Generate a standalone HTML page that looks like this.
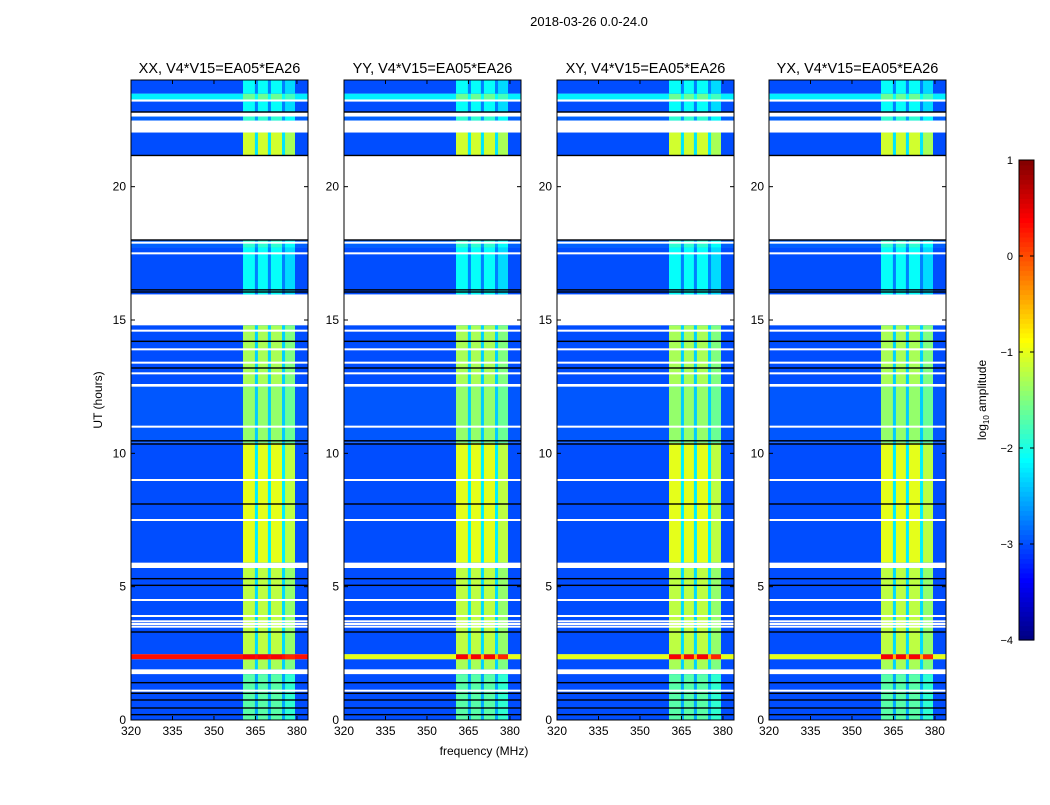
<!DOCTYPE html>
<html><head><meta charset="utf-8"><style>
body{margin:0;background:#fff;width:1050px;height:800px;overflow:hidden;font-family:"Liberation Sans",sans-serif}
svg text{font-family:"Liberation Sans",sans-serif}
</style></head><body>
<svg id="fig" width="1050" height="800" xmlns="http://www.w3.org/2000/svg">
<rect width="1050" height="800" fill="#fff"/>
<text x="589" y="26" font-size="13" text-anchor="middle">2018-03-26 0.0-24.0</text>
<text transform="translate(102,400) rotate(-90)" font-size="12" text-anchor="middle">UT (hours)</text>
<text x="484" y="755" font-size="12" text-anchor="middle">frequency (MHz)</text>
<g id="panels"></g>
<g id="cbar"></g>
<text transform="translate(986,400) rotate(-90)" font-size="12" text-anchor="middle">log<tspan font-size="8" dy="3">10</tspan><tspan dy="-3"> amplitude</tspan></text>
</svg>
<script>
// ---- data ----
const panelTitles = ["XX, V4*V15=EA05*EA26","YY, V4*V15=EA05*EA26","XY, V4*V15=EA05*EA26","YX, V4*V15=EA05*EA26"];
const panelLeft = [131,344,557,769];
const xTicks = [320,335,350,365,380];
const yTicks = [0,5,10,15,20];
const cbarTicks = [1,0,-1,-2,-3,-4];
// time segments: start hour, end hour, background level, rfi level (null = flagged)
const segStart = [0,1.72,1.9,2.28,2.47,5.7,5.9,10.4,12.5,12.6,14.8,15.96,17.72,18.02,21.17,22.03,22.48,22.63,22.78,23.19,23.27,23.49];
const segEnd   = [1.72,1.9,2.28,2.47,5.7,5.9,10.4,12.5,12.6,14.8,15.96,17.72,18.02,21.17,22.03,22.48,22.63,22.78,23.19,23.27,23.49,24];
const segBg    = [-3.0,null,-3.0,-0.9,-3.0,null,-3.0,-2.95,null,-3.0,null,-3.0,-2.9,null,-3.0,null,-2.9,null,-3.0,null,-2.2,-3.0];
const segRfi   = [-1.7,null,-1.3,0.4,-1.2,null,-1.0,-1.4,null,-1.3,null,-2.1,-1.9,null,-1.1,null,-1.9,null,-2.1,null,-1.6,-2.1];
// per-panel background level of the 2.3h burst
const burstBg = [0.3,-1.0,-1.0,-1.0];
const rfiBandLo = [360.5,365.9,370.6,375.7];
const rfiBandHi = [364.8,369.5,374.6,379.3];
const blackLines = [0.2,0.45,0.75,1.0,1.4,3.3,5.05,5.3,8.1,10.35,10.47,13.2,14.2,16.05,16.13,18.0,21.17,22.8];
const whiteLines = [1.1,3.5,3.6,3.7,3.9,4.5,7.5,9.0,11.0,13.0,13.4,13.9,14.6,17.5,17.9];

const PW=177, PT=80, PB=720, F0=320, F1=384;
const NS="http://www.w3.org/2000/svg";
function jet(L){let v=Math.max(0,Math.min(1,(L+4)/5));
 const c=x=>Math.round(255*Math.max(0,Math.min(1,x)));
 return `rgb(${c(1.5-Math.abs(4*v-3))},${c(1.5-Math.abs(4*v-2))},${c(1.5-Math.abs(4*v-1))})`;}
function mk(tag,attrs,parent){const e=document.createElementNS(NS,tag);for(const k in attrs)e.setAttribute(k,attrs[k]);parent.appendChild(e);return e;}
const yS=h=>PB-(h/24)*(PB-PT);
const panels=document.getElementById('panels');
panelLeft.forEach((L,p)=>{
 const xS=f=>L+(f-F0)/(F1-F0)*PW;
 const g=mk('g',{},panels);
 
 
 for(let i=0;i<segStart.length;i++){
  if(segBg[i]===null)continue;
  const y0=yS(segEnd[i]),y1=yS(segStart[i]);
  let bg=segBg[i]; if(segStart[i]===2.28) bg=burstBg[p];
  const r=mk('rect',{x:L,y:y0,width:PW,height:y1-y0,fill:jet(bg)},g);
  
  
  const gap=mk('rect',{x:xS(rfiBandLo[0]),y:y0,width:xS(rfiBandHi[3])-xS(rfiBandLo[0]),height:y1-y0,fill:jet(Math.max(bg,(segRfi[i]+bg)/2-0.2))},g);
  
  
  for(let b=0;b<rfiBandLo.length;b++){
   const c=mk('rect',{x:xS(rfiBandLo[b]),y:y0,width:xS(rfiBandHi[b])-xS(rfiBandLo[b]),height:y1-y0,fill:jet(segRfi[i]-(b===3?0.2:0))},g);
   
   
  }
 }
 whiteLines.forEach(h=>{const l=mk('rect',{x:L,y:yS(h)-1,width:PW,height:2,fill:'#fff'},g);
  
  });
 blackLines.forEach(h=>{const l=mk('rect',{x:L,y:yS(h)-0.7,width:PW,height:1.4,fill:'#000'},g);
  
  });
 const fr=mk('rect',{x:L,y:PT,width:PW,height:PB-PT,fill:'none',stroke:'#000','stroke-width':1},g);
 
 
 const t=mk('text',{x:L+PW/2,y:PT-7,'font-size':14.5,'text-anchor':'middle'},g);t.textContent=panelTitles[p];
 
 
 xTicks.forEach(f=>{const x=xS(f);
  mk('line',{x1:x,x2:x,y1:PB,y2:PB-4,stroke:'#000'},g);mk('line',{x1:x,x2:x,y1:PT,y2:PT+4,stroke:'#000'},g);
  const tx=mk('text',{x:x,y:PB+15,'font-size':12,'text-anchor':'middle'},g);tx.textContent=f;
  
  });
 yTicks.forEach(h=>{const y=yS(h);
  mk('line',{x1:L,x2:L+4,y1:y,y2:y,stroke:'#000'},g);mk('line',{x1:L+PW,x2:L+PW-4,y1:y,y2:y,stroke:'#000'},g);
  const ty=mk('text',{x:L-5,y:y+4,'font-size':12,'text-anchor':'end'},g);ty.textContent=h;
  
  });
});
// colorbar
const cb=document.getElementById('cbar');
const CX=1019,CW=15,CT=160,CB=640;
const cy=v=>CB-(v+4)/5*(CB-CT);
for(let i=0;i<100;i++){const v0=-4+i*0.05;
 const r=mk('rect',{x:CX,y:cy(v0+0.05),width:CW,height:(CB-CT)/100+0.6,fill:jet(v0+0.025)},cb);
 
 }
const cf=mk('rect',{x:CX,y:CT,width:CW,height:CB-CT,fill:'none',stroke:'#000'},cb);


cbarTicks.forEach(v=>{const y=cy(v);
 mk('line',{x1:CX,x2:CX+4,y1:y,y2:y,stroke:'#000'},cb);mk('line',{x1:CX+CW,x2:CX+CW-4,y1:y,y2:y,stroke:'#000'},cb);
 const t=mk('text',{x:CX-6,y:y+4,'font-size':11,'text-anchor':'end'},cb);t.textContent=v<0?'\u2212'+(-v):v;
 
 });
</script>
</body></html>
